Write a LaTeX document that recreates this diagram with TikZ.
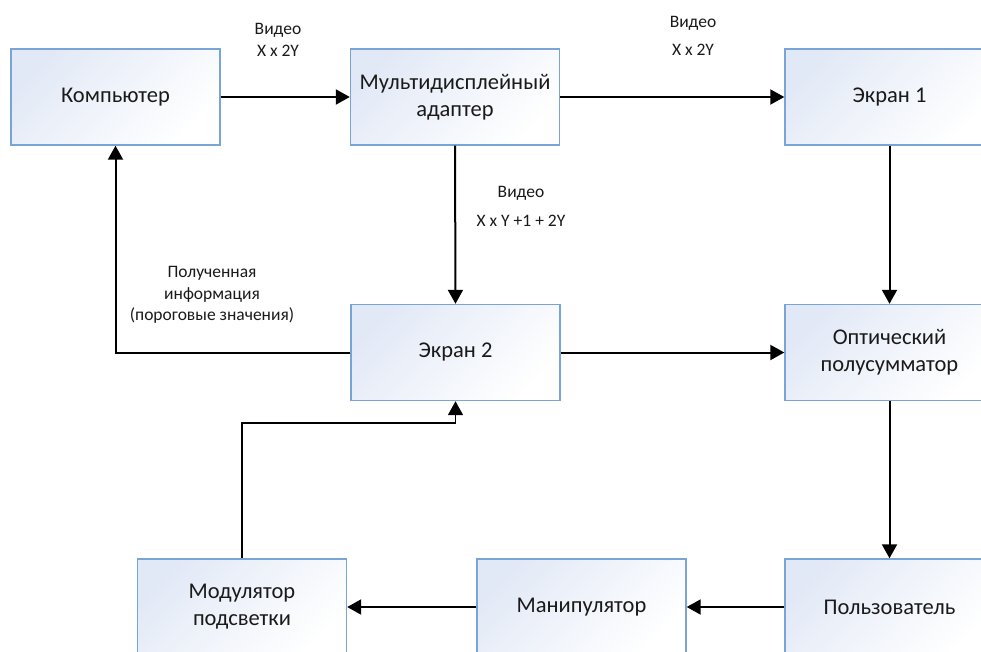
\documentclass[tikz,border=0pt]{standalone}
\usepackage{fontspec}
\setmainfont{Carlito}
\usetikzlibrary{arrows.meta}
\definecolor{boxline}{HTML}{7AA3D6}
\definecolor{boxfill}{HTML}{E2E9F6}
\definecolor{txt}{HTML}{1A1A1A}
\tikzset{
  blk/.style={draw=boxline, line width=1.4pt, top color=boxfill, bottom color=white, shading angle=45,
    minimum width=209pt, minimum height=96pt, inner sep=0pt, align=center, text=txt,
    font=\fontsize{22.5}{27}\selectfont},
  conn/.style={line width=2pt, -{Triangle[length=14pt,width=15pt]}},
  lbl/.style={align=center, text=txt, inner sep=0pt}
}
\begin{document}
\begin{tikzpicture}[x=1pt,y=-1pt]
\useasboundingbox (0,0) rectangle (981,651);
\clip (0,0) rectangle (981,651);
\fill[white] (0,0) rectangle (981,651);
% boxes
\node[blk] (comp) at (115.5,97) {Компьютер};
\node[blk] (multi) at (455,97) {Мультидисплейный\\адаптер};
\node[blk] (ekr1) at (889.5,97) {Экран 1};
\node[blk] (ekr2) at (455.5,352.5) {Экран 2};
\node[blk] (opt) at (889.5,352.5) {Оптический\\полусумматор};
\node[blk] (mod) at (242,607) {Модулятор\\подсветки};
\node[blk] (manip) at (581.5,607) {Манипулятор};
\node[blk] (user) at (889.5,607) {Пользователь};
% connectors
\draw[conn] (comp.east) -- (multi.west);
\draw[conn] (multi.east) -- (ekr1.west);
\draw[conn] (multi.south) -- (ekr2.north);
\draw[conn] (ekr1.south) -- (opt.north);
\draw[conn] (ekr2.east) -- (opt.west);
\draw[conn] (opt.south) -- (user.north);
\draw[conn] (user.west) -- (manip.east);
\draw[conn] (manip.west) -- (mod.east);
\coordinate (bend) at (242,423);
\draw[conn, line width=1.8pt] (mod.north) -- (bend) -| (ekr2.south);
\draw[conn] (ekr2.west) -| (comp.south);
% labels
\node[lbl, font=\fontsize{17.5}{22}\selectfont] (l1) at (278,40) {Видео\\X x 2Y};
\node[lbl, font=\fontsize{17.5}{28}\selectfont] (l2) at (693,36) {Видео\\X x 2Y};
\node[lbl, font=\fontsize{17.5}{29}\selectfont] (l3) at (521,206) {Видео\\X x Y +1 + 2Y};
\node[lbl, font=\fontsize{17.5}{21.5}\selectfont] (l4) at (212,295) {Полученная\\информация\\(пороговые значения)};
\end{tikzpicture}
\end{document}
